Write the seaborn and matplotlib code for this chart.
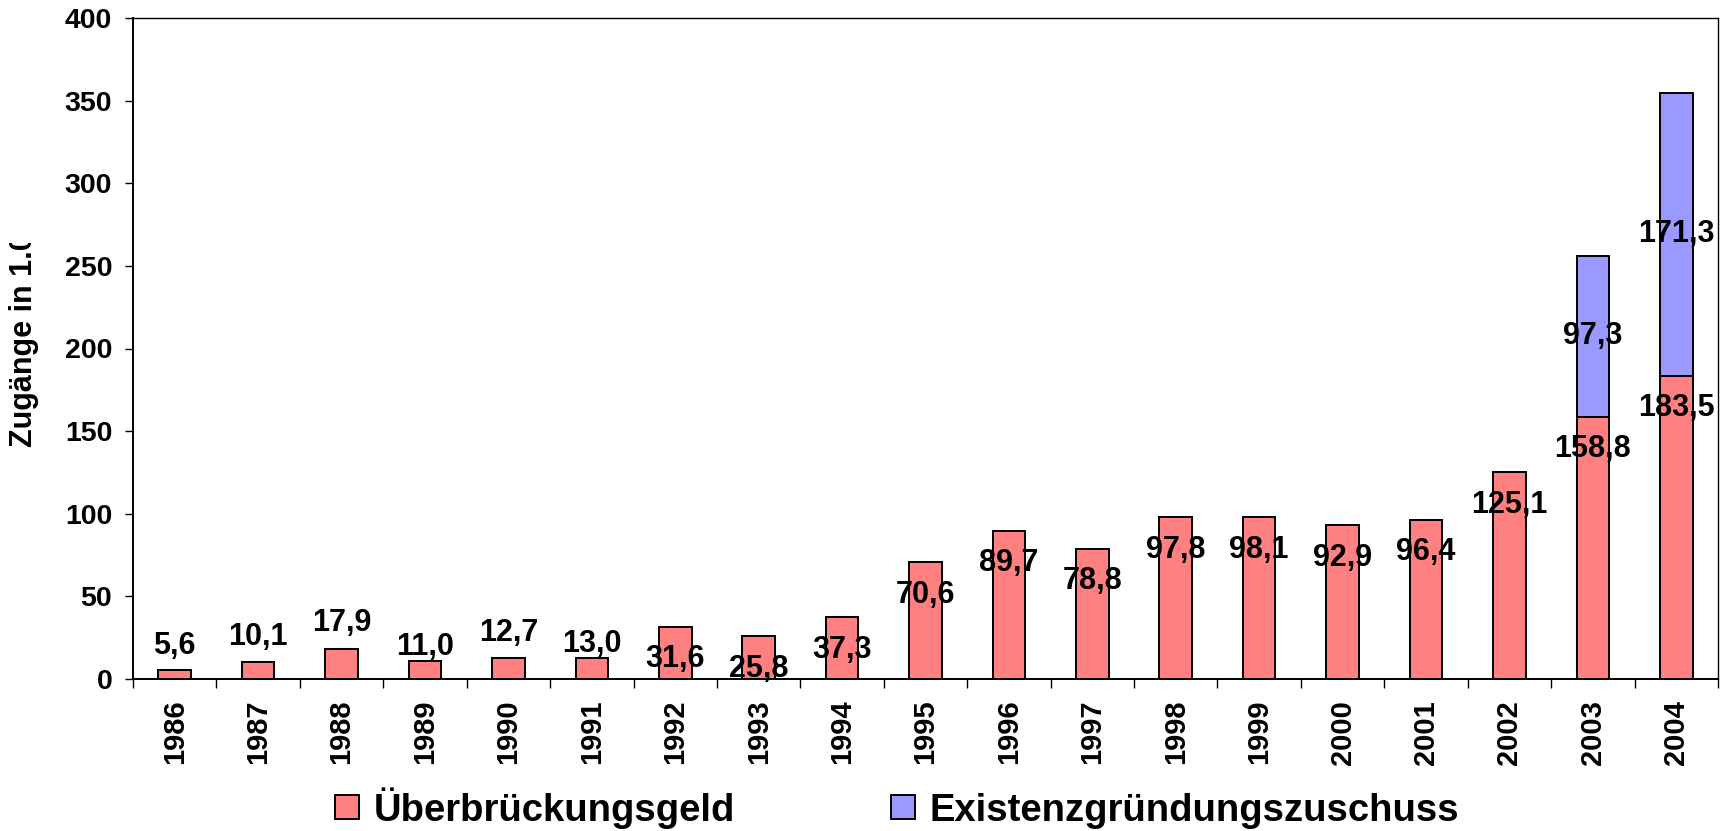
import numpy as np
import pandas as pd
import matplotlib
matplotlib.use("Agg")
import matplotlib.pyplot as plt
import seaborn as sns
from matplotlib.patches import Patch
from matplotlib.transforms import Bbox, TransformedBbox

# Zugänge (in 1.000) nach Förderart und Jahr
years = [str(y) for y in range(1986, 2005)]
ueberbrueckungsgeld = [5.6, 10.1, 17.9, 11.0, 12.7, 13.0, 31.6, 25.8, 37.3, 70.6,
                       89.7, 78.8, 97.8, 98.1, 92.9, 96.4, 125.1, 158.8, 183.5]
existenzgruendungszuschuss = [0, 0, 0, 0, 0, 0, 0, 0, 0, 0,
                              0, 0, 0, 0, 0, 0, 0, 97.3, 171.3]
y_ticks = [0, 50, 100, 150, 200, 250, 300, 350, 400]
series_names = ["Überbrückungsgeld", "Existenzgründungszuschuss"]

# label offsets (points) for the Überbrückungsgeld values: above or inside the bar
label_offset_pt = {"1986": 17, "1987": 18, "1988": 19, "1989": 10, "1990": 18, "1991": 10}
inside_offset_pt = -23.5

RED = "#FF8080"
BLUE = "#9999FF"

sns.set_theme(style="white")
plt.rcParams["font.family"] = ["Liberation Sans", "DejaVu Sans"]
plt.rcParams["font.weight"] = "bold"
for key in ("text.color", "axes.labelcolor", "xtick.color", "ytick.color"):
    plt.rcParams[key] = "black"

df = pd.DataFrame({
    "Jahr": years,
    "UEG": ueberbrueckungsgeld,
    "EGZ": existenzgruendungszuschuss,
})
df["Gesamt"] = df["UEG"] + df["EGZ"]

fig = plt.figure(figsize=(17.32, 8.31), dpi=100)
ax = fig.add_axes([133 / 1732, 1 - 679 / 831, (1718 - 133) / 1732, (679 - 18) / 831])

bar_kw = dict(width=0.39, edgecolor="black", linewidth=1.4, saturation=1,
              errorbar=None, order=years, ax=ax)
# stacked: total first (blue), Überbrückungsgeld on top of it (red)
sns.barplot(data=df, x="Jahr", y="Gesamt", color=BLUE, **bar_kw)
sns.barplot(data=df, x="Jahr", y="UEG", color=RED, **bar_kw)

ax.set_xlim(-0.5, len(years) - 0.5)
ax.set_ylim(0, 400)
ax.set_yticks(y_ticks)
ax.set_yticklabels([str(t) for t in y_ticks], fontsize=20.5, fontweight="bold")
ax.set_xticks(range(len(years)))
ax.set_xticklabels(years, rotation=90, fontsize=21, fontweight="bold")
ax.set_xticks(np.arange(-0.5, len(years), 1.0), minor=True)
ax.set_xlabel("")
ax.set_ylabel("")

ax.tick_params(axis="x", which="major", length=0, pad=15, bottom=True)
ax.tick_params(axis="x", which="minor", length=6.5, width=1.0, color="black",
               direction="out", bottom=True)
ax.tick_params(axis="y", which="major", length=6, width=1.0, color="black",
               direction="out", left=True, pad=9)

for side, lw in (("left", 1.4), ("bottom", 1.4), ("top", 1.0), ("right", 1.0)):
    ax.spines[side].set_visible(True)
    ax.spines[side].set_color("black")
    ax.spines[side].set_linewidth(lw)

label_kw = dict(textcoords="offset points", ha="center", va="center",
                fontsize=22, fontweight="bold", color="black")


def fmt(v):
    return f"{v:.1f}".replace(".", ",")


for i, (yr, ueg, egz) in enumerate(zip(years, ueberbrueckungsgeld, existenzgruendungszuschuss)):
    off = label_offset_pt.get(yr, inside_offset_pt)
    ax.annotate(fmt(ueg), xy=(i, ueg), xytext=(0, off), **label_kw)
    if egz > 0:
        ax.annotate(fmt(egz), xy=(i, ueg + egz / 2), xytext=(0, 0), **label_kw)

# y-axis title, cut off at the top
ylab = fig.text(24 / 1732, 1 - 447 / 831, "Zugänge in 1.000", rotation=90,
                ha="center", va="bottom", fontsize=22, fontweight="bold", color="black")
ylab.set_clip_box(TransformedBbox(Bbox([[0, 0], [1, 1 - 243 / 831]]), fig.transFigure))
ylab.set_clip_on(True)

handles = [Patch(facecolor=RED, edgecolor="black", linewidth=1.4),
           Patch(facecolor=BLUE, edgecolor="black", linewidth=1.4)]
fig.legend(handles=handles, labels=series_names, loc="center",
           bbox_to_anchor=(0.518, 1 - 808 / 831), ncol=2, frameon=False,
           prop={"size": 27.5, "weight": "bold"}, handlelength=0.63,
           handleheight=0.6, handletextpad=0.37, columnspacing=4.1,
           borderpad=0, borderaxespad=0)

fig.savefig("out.png", dpi=100, facecolor="white")
